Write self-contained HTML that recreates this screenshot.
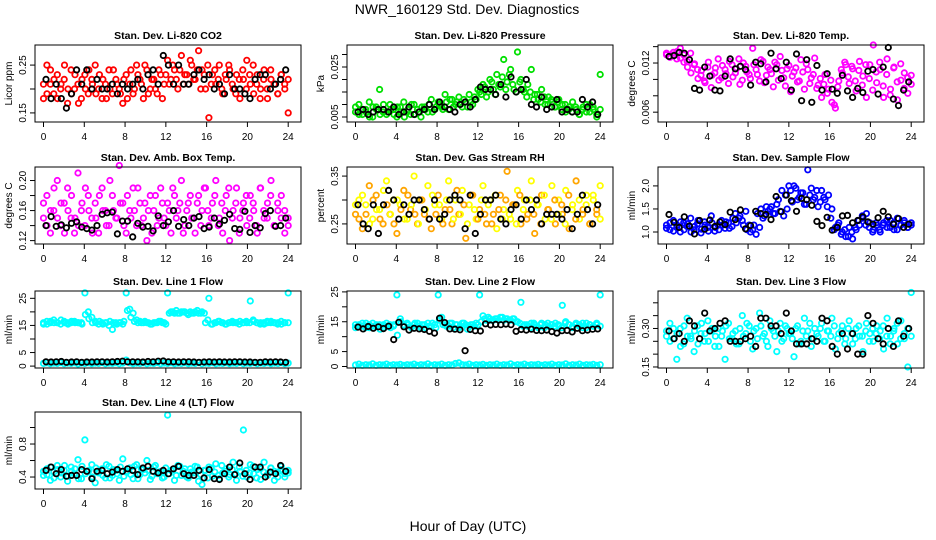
<!DOCTYPE html>
<html><head><meta charset="utf-8">
<style>
html,body{margin:0;padding:0;background:#fff;}
svg{display:block;font-family:"Liberation Sans",Arial,sans-serif;}
</style></head>
<body>
<svg id="chart" width="936" height="540" viewBox="0 0 936 540" xmlns="http://www.w3.org/2000/svg">
<rect width="936" height="540" fill="#fff"/>
<text x="467" y="14" text-anchor="middle" font-size="14" fill="#000">NWR_160129  Std. Dev. Diagnostics</text>
<text x="468" y="531" text-anchor="middle" font-size="14" fill="#000">Hour of Day (UTC)</text>
<g id="panels"></g>
</svg>
<script>
const xTicks = [0,4,8,12,16,20,24];
const xTickLabels = ["0","4","8","12","16","20","24"];

const co2Color = [0.18,0.25,0.21,0.19,0.23,0.20,0.22,0.17,0.24,0.20,0.21,0.18,0.23,0.19,0.22,0.25,0.20,0.18,0.21,0.24,0.19,0.22,0.20,0.17,0.23,0.21,0.19,0.25,0.22,0.18,0.24,0.20,0.22,0.19,0.23,0.21,0.26,0.22,0.24,0.20,0.27,0.23,0.21,0.25,0.22,0.28,0.24,0.20,0.14,0.23,0.21,0.25,0.19,0.22,0.24,0.20,0.23,0.18,0.22,0.26,0.21,0.19,0.23,0.20,0.24,0.18,0.22,0.21,0.19,0.23,0.20,0.15];
const co2Color2 = [0.21,0.19,0.24,0.22,0.18,0.21,0.25,0.20,0.19,0.23,0.17,0.22,0.20,0.24,0.21,0.19,0.23,0.22,0.18,0.20,0.24,0.21,0.19,0.22,0.18,0.24,0.20,0.23,0.21,0.25,0.19,0.22,0.20,0.24,0.18,0.23,0.21,0.25,0.22,0.24,0.21,0.23,0.26,0.22,0.24,0.20,0.23,0.25,0.21,0.24,0.22,0.20,0.23,0.25,0.21,0.19,0.22,0.24,0.20,0.23,0.25,0.21,0.18,0.22,0.20,0.24,0.21,0.19,0.23,0.21,0.22];
const co2Black = [0.22,0.18,0.21,0.18,0.16,0.19,0.24,0.21,0.24,0.20,0.22,0.20,0.20,0.21,0.19,0.21,0.20,0.21,0.22,0.20,0.23,0.24,0.21,0.27,0.25,0.21,0.25,0.21,0.21,0.23,0.24,0.22,0.23,0.20,0.21,0.19,0.23,0.20,0.20,0.19,0.18,0.22,0.23,0.23,0.20,0.21,0.22,0.24];

const presColor = [0.007,0.010,0.006,0.008,0.011,0.005,0.009,0.016,0.007,0.006,0.010,0.008,0.005,0.009,0.011,0.007,0.006,0.010,0.008,0.005,0.009,0.007,0.012,0.008,0.011,0.009,0.014,0.008,0.012,0.010,0.013,0.009,0.011,0.014,0.010,0.012,0.015,0.018,0.013,0.020,0.016,0.022,0.017,0.028,0.019,0.024,0.016,0.031,0.020,0.015,0.018,0.024,0.014,0.012,0.016,0.010,0.013,0.011,0.009,0.012,0.010,0.007,0.009,0.011,0.008,0.006,0.009,0.007,0.010,0.008,0.005,0.022];
const presColor2 = [0.009,0.006,0.008,0.007,0.005,0.009,0.008,0.006,0.010,0.007,0.008,0.006,0.009,0.007,0.005,0.008,0.010,0.006,0.007,0.009,0.008,0.010,0.007,0.009,0.010,0.008,0.011,0.012,0.009,0.011,0.010,0.012,0.009,0.011,0.013,0.016,0.014,0.017,0.015,0.019,0.014,0.018,0.021,0.016,0.022,0.018,0.015,0.019,0.016,0.013,0.015,0.012,0.014,0.011,0.013,0.010,0.012,0.009,0.011,0.008,0.010,0.008,0.007,0.009,0.006,0.008,0.010,0.007,0.009,0.006,0.008];
const presBlack = [0.007,0.008,0.006,0.007,0.008,0.008,0.007,0.009,0.006,0.007,0.009,0.006,0.007,0.008,0.010,0.008,0.011,0.009,0.008,0.007,0.010,0.011,0.009,0.012,0.017,0.016,0.016,0.014,0.018,0.013,0.021,0.015,0.016,0.020,0.010,0.009,0.013,0.008,0.009,0.012,0.007,0.008,0.007,0.007,0.012,0.009,0.011,0.006];

const tempColor = [0.013,0.0128,0.0133,0.0125,0.0138,0.013,0.0122,0.0132,0.0118,0.0112,0.0105,0.0098,0.0115,0.009,0.0108,0.0125,0.0102,0.0112,0.0095,0.0118,0.0108,0.0125,0.0099,0.0116,0.0106,0.0138,0.0112,0.0098,0.0122,0.0105,0.0112,0.0091,0.0118,0.0128,0.0102,0.0113,0.0085,0.0109,0.0097,0.0124,0.0088,0.0112,0.0102,0.0126,0.0093,0.0078,0.0106,0.0088,0.0072,0.0065,0.0098,0.0108,0.0118,0.0095,0.0113,0.0086,0.0122,0.0104,0.0078,0.0118,0.0142,0.0096,0.0112,0.0078,0.0125,0.0088,0.0115,0.0075,0.0099,0.0108,0.0083,0.0105];
const tempColor2 = [0.0132,0.0127,0.013,0.0134,0.0126,0.0121,0.0115,0.0108,0.0119,0.0101,0.0111,0.0096,0.0121,0.0105,0.0114,0.0099,0.0117,0.0107,0.0122,0.0103,0.0113,0.0094,0.012,0.0109,0.0101,0.0118,0.0106,0.0124,0.0096,0.0115,0.0107,0.0121,0.0099,0.0111,0.0092,0.0117,0.0104,0.0114,0.0098,0.0109,0.0119,0.0095,0.0106,0.0089,0.0101,0.0094,0.0083,0.0099,0.0069,0.0091,0.0112,0.0121,0.0103,0.0116,0.0098,0.0111,0.0093,0.0118,0.0101,0.0087,0.0109,0.0121,0.0092,0.0106,0.0081,0.0114,0.0097,0.0119,0.0089,0.0102,0.0094];
const tempBlack = [0.0128,0.0129,0.0133,0.0132,0.0124,0.0089,0.0087,0.0115,0.0104,0.0087,0.0086,0.0104,0.0125,0.0113,0.0116,0.0112,0.0093,0.0121,0.0119,0.0097,0.0132,0.0113,0.0101,0.0121,0.0087,0.0131,0.0074,0.0124,0.0072,0.0117,0.0087,0.0107,0.0088,0.0083,0.0105,0.0086,0.0078,0.0089,0.0084,0.0110,0.0112,0.0082,0.0115,0.0139,0.0076,0.0068,0.0087,0.0097];

const boxColor = [0.15,0.18,0.13,0.16,0.20,0.14,0.17,0.19,0.15,0.13,0.21,0.16,0.14,0.18,0.15,0.17,0.13,0.19,0.16,0.14,0.18,0.15,0.22,0.17,0.13,0.16,0.19,0.14,0.17,0.15,0.12,0.18,0.16,0.14,0.19,0.15,0.17,0.13,0.18,0.16,0.20,0.14,0.17,0.15,0.13,0.18,0.16,0.19,0.14,0.17,0.20,0.15,0.13,0.18,0.12,0.16,0.19,0.15,0.17,0.14,0.18,0.16,0.13,0.19,0.15,0.17,0.20,0.14,0.16,0.18,0.13,0.15];
const boxColor2 = [0.17,0.14,0.16,0.19,0.15,0.17,0.13,0.16,0.18,0.15,0.14,0.17,0.19,0.16,0.13,0.15,0.18,0.16,0.14,0.20,0.16,0.15,0.17,0.14,0.18,0.15,0.16,0.19,0.14,0.17,0.16,0.13,0.18,0.15,0.17,0.14,0.16,0.19,0.15,0.17,0.13,0.16,0.18,0.15,0.17,0.14,0.19,0.16,0.15,0.18,0.14,0.17,0.16,0.19,0.15,0.17,0.13,0.16,0.18,0.15,0.17,0.14,0.19,0.16,0.15,0.18,0.14,0.17,0.15,0.16,0.14];
const boxBlack = [0.140,0.152,0.139,0.141,0.137,0.143,0.145,0.138,0.136,0.134,0.140,0.155,0.157,0.158,0.129,0.146,0.146,0.125,0.143,0.138,0.139,0.133,0.153,0.140,0.145,0.160,0.139,0.148,0.140,0.150,0.152,0.136,0.138,0.150,0.142,0.147,0.155,0.136,0.135,0.159,0.131,0.140,0.137,0.156,0.160,0.139,0.140,0.150];

const rhColor = [0.27,0.30,0.24,0.29,0.33,0.26,0.31,0.28,0.25,0.34,0.27,0.30,0.23,0.29,0.32,0.26,0.28,0.35,0.25,0.30,0.27,0.33,0.24,0.29,0.31,0.26,0.28,0.34,0.25,0.30,0.27,0.32,0.22,0.29,0.31,0.26,0.28,0.33,0.25,0.30,0.27,0.24,0.31,0.28,0.36,0.26,0.29,0.32,0.25,0.30,0.27,0.34,0.23,0.29,0.31,0.26,0.28,0.33,0.25,0.30,0.27,0.32,0.24,0.29,0.34,0.26,0.28,0.31,0.25,0.30,0.27,0.33];
const rhColor2 = [0.29,0.26,0.31,0.27,0.25,0.30,0.28,0.26,0.32,0.29,0.27,0.25,0.30,0.28,0.26,0.31,0.29,0.27,0.25,0.30,0.28,0.26,0.31,0.27,0.29,0.25,0.30,0.28,0.26,0.32,0.27,0.29,0.25,0.31,0.28,0.26,0.30,0.27,0.29,0.25,0.31,0.28,0.26,0.30,0.27,0.29,0.25,0.31,0.28,0.26,0.30,0.27,0.29,0.25,0.31,0.28,0.26,0.30,0.27,0.29,0.25,0.31,0.28,0.26,0.30,0.27,0.29,0.25,0.31,0.28,0.26];
const rhBlack = [0.29,0.25,0.24,0.29,0.23,0.29,0.32,0.30,0.26,0.29,0.27,0.30,0.30,0.28,0.26,0.30,0.26,0.27,0.30,0.31,0.30,0.24,0.31,0.23,0.27,0.30,0.30,0.31,0.26,0.25,0.28,0.29,0.26,0.30,0.28,0.30,0.25,0.27,0.27,0.27,0.26,0.28,0.24,0.27,0.31,0.28,0.25,0.29];

const flowColor = [1.15,1.05,1.25,1.10,1.00,1.20,1.12,1.30,1.05,1.18,0.98,1.22,1.10,1.35,1.02,1.15,1.25,1.08,1.20,1.12,1.40,1.30,1.25,1.45,1.15,1.05,0.95,1.10,1.30,1.55,1.50,1.40,1.60,1.45,1.35,1.50,1.90,2.00,1.70,1.85,1.60,2.35,1.95,1.75,1.55,1.90,1.70,1.80,1.50,1.10,1.20,1.00,0.90,1.10,0.85,1.05,1.15,1.30,1.40,1.20,1.05,1.15,1.00,1.20,1.10,1.25,1.05,1.30,1.15,1.20,1.10,1.15];
const flowColor2 = [1.08,1.20,1.02,1.15,1.22,1.05,1.18,1.00,1.12,1.25,1.06,1.15,1.02,1.20,1.10,1.05,1.15,1.22,1.08,1.30,1.20,1.35,1.15,1.05,1.00,1.15,1.40,1.50,1.35,1.45,1.55,1.40,1.70,1.90,1.80,2.00,1.65,1.95,1.75,1.85,1.60,1.80,1.70,1.90,1.65,1.75,1.55,1.30,1.05,1.15,0.95,1.05,0.90,1.00,1.10,1.25,1.35,1.15,1.10,1.00,1.20,1.05,1.15,1.25,1.10,1.20,1.05,1.15,1.25,1.10,1.20];
const flowBlack = [1.38,1.21,1.10,1.33,1.13,0.96,1.25,1.06,1.26,1.12,1.22,1.16,1.43,1.27,1.48,1.07,1.14,1.45,1.40,1.38,1.27,1.77,1.44,1.80,1.68,1.45,1.73,1.70,1.58,1.23,1.14,1.32,1.04,1.10,1.35,1.36,1.20,1.25,1.33,1.22,1.17,1.31,1.45,1.33,1.17,1.29,1.10,1.17];

const line1High = [15.5,16.5,16,17,16,15.5,16.5,16,16,16.5,16,16,27,20,18,16.5,15.5,16,16,15,13.5,16,16,15.5,27,21,19.5,17,16.5,16,16,15.5,16,16,16.5,16,27,20,19.5,19.5,20,20,19,19.5,20,19.5,20,16,25,15.5,16,16.5,16,15.5,16,16,16,16.5,16,16,24,16.5,16,16,15.5,16,16.5,16,16,15.5,16,27];
const line1High2 = [16,15.5,16.5,16,16,17,16,15.5,16.5,16,16,15.5,19,17.5,16,16,16.5,15.5,16,16.5,16,15.5,16,16.5,20.5,18,16.5,16,16,16.5,16,15.5,16,16.5,16,15.5,19.5,20,20.5,19.5,20,19.5,20,19.5,20.5,19.5,19.5,17,15.5,16,16.5,16,15.5,16,16.5,16,15.5,16,16.5,16,17,16,15.5,16,16.5,16,16,15.5,16.5,16,16];
const line1Low = [1.0,1.2,0.9,1.1,1.0,1.3,0.9,1.1,1.0,1.2,0.8,1.1,1.0,1.2,0.9,1.1,1.0,1.3,0.9,1.1,1.0,1.2,0.9,1.1,2.2,1.2,0.9,1.1,1.0,1.2,0.9,1.1,1.0,1.3,0.9,1.1,1.0,1.2,0.9,1.1,1.0,1.2,0.9,1.1,1.0,1.3,0.9,1.1,1.0,1.2,0.9,1.1,1.0,1.2,0.9,1.1,1.0,1.3,0.9,1.1,1.0,1.2,0.9,1.1,1.0,1.2,0.9,1.1,1.0,1.3,0.9,1.1];
const line1Black = [1.6,1.5,1.6,1.7,1.4,1.5,1.6,1.4,1.5,1.5,1.6,1.6,1.5,1.6,1.7,1.8,1.6,1.6,1.6,1.5,1.7,1.6,1.8,1.9,1.6,1.6,1.5,1.6,1.6,1.5,1.4,1.5,1.6,1.5,1.6,1.5,1.5,1.6,1.6,1.5,1.5,1.4,1.4,1.6,1.5,1.6,1.5,1.4];

const line2High = [14,13.5,14.5,13,14,14.5,13.5,14,13,14.5,14,13.5,24,16,14,14.5,13.5,14,14.5,13,14,14.5,13.5,14,24,16.5,14,13.5,14.5,14,13,14.5,14,13.5,14,14.5,24,17,15.5,16,15.5,16,16.5,15.5,16,15.5,16,15,21.5,14,13.5,14.5,14,13,14.5,14,13.5,14,14.5,13.5,20.5,15,14,13.5,14.5,14,13,14.5,14,13.5,14,24];
const line2High2 = [13,14,13.5,14.5,13,13.5,14,12.5,14,13.5,13,14,10.5,15,13.5,14,13,14.5,13.5,14,13,13.5,14.5,13,15.5,14,13.5,14.5,13,14,13.5,14.5,12.5,14,13.5,14,15,16,16.5,15.5,16,15.5,16.5,16,15.5,16,15,14.5,13.5,14,13,14.5,13.5,14,13,14.5,14,13.5,14,13,14.5,14,13,14,13.5,14.5,13,14,13.5,14.5,13.5];
const line2Low = [0.5,0.8,0.4,0.6,0.5,0.9,0.4,0.6,0.5,0.8,0.4,0.6,0.5,0.7,0.4,0.6,0.5,0.8,0.4,0.6,0.5,0.9,0.4,0.6,0.5,0.8,0.4,0.6,0.5,1.0,1.2,0.6,0.5,0.8,0.4,0.6,0.5,0.7,0.4,0.6,0.5,0.8,0.4,0.6,0.5,0.9,0.4,0.6,0.5,0.8,0.4,0.6,0.5,0.7,0.4,0.6,0.5,0.8,0.4,0.6,0.5,0.9,0.4,0.6,0.5,0.8,0.4,0.6,0.5,0.7,0.4,0.6];
const line2Black = [13.2,12.6,13.4,12.8,13.3,12.7,13.5,9.0,14.8,13.3,12.2,12.8,12.6,12.4,11.8,11.2,16.2,14.7,12.6,12.5,12.3,5.3,12.4,12.0,11.9,14.3,13.9,14.1,14.0,14.2,14.0,11.8,12.4,12.2,12.5,12.1,12.0,12.2,11.7,11.2,12.0,12.1,11.6,12.8,12.0,12.2,12.5,12.6];

const line3Color = [0.29,0.32,0.26,0.18,0.30,0.24,0.34,0.27,0.21,0.31,0.28,0.25,0.33,0.29,0.23,0.30,0.27,0.18,0.32,0.26,0.29,0.24,0.35,0.28,0.31,0.22,0.30,0.36,0.27,0.25,0.33,0.29,0.21,0.32,0.26,0.30,0.28,0.19,0.31,0.25,0.34,0.29,0.23,0.30,0.27,0.32,0.25,0.29,0.34,0.22,0.28,0.31,0.26,0.33,0.24,0.30,0.27,0.21,0.32,0.28,0.25,0.31,0.29,0.22,0.34,0.27,0.30,0.24,0.33,0.26,0.15,0.44];
const line3Color2 = [0.27,0.25,0.30,0.28,0.23,0.31,0.27,0.26,0.29,0.24,0.32,0.28,0.25,0.30,0.27,0.23,0.29,0.31,0.26,0.28,0.24,0.30,0.27,0.32,0.25,0.29,0.26,0.31,0.28,0.23,0.30,0.27,0.29,0.25,0.31,0.28,0.26,0.30,0.24,0.29,0.27,0.32,0.26,0.28,0.30,0.25,0.29,0.27,0.31,0.26,0.29,0.24,0.30,0.28,0.26,0.31,0.27,0.29,0.25,0.30,0.28,0.26,0.31,0.27,0.24,0.29,0.32,0.26,0.28,0.30,0.27];
const line3Black = [0.29,0.26,0.28,0.25,0.33,0.31,0.26,0.36,0.29,0.30,0.32,0.33,0.25,0.25,0.25,0.26,0.27,0.23,0.34,0.34,0.31,0.31,0.28,0.36,0.29,0.24,0.24,0.24,0.26,0.25,0.34,0.33,0.23,0.20,0.28,0.22,0.28,0.20,0.20,0.35,0.32,0.26,0.24,0.30,0.23,0.33,0.27,0.30];

const line4Color = [0.42,0.50,0.36,0.46,0.54,0.40,0.48,0.35,0.52,0.44,0.61,0.38,0.85,0.47,0.55,0.33,0.45,0.50,0.39,0.53,0.42,0.48,0.36,0.62,0.46,0.51,0.38,0.55,0.43,0.49,0.60,0.37,0.52,0.44,0.47,0.40,1.15,0.48,0.36,0.54,0.42,0.50,0.39,0.46,0.53,0.35,0.31,0.48,0.52,0.41,0.56,0.38,0.45,0.50,0.43,0.58,0.36,0.47,0.97,0.40,0.55,0.44,0.49,0.37,0.58,0.42,0.51,0.36,0.46,0.53,0.40,0.45];
const line4Color2 = [0.47,0.43,0.52,0.39,0.49,0.45,0.54,0.41,0.47,0.50,0.38,0.53,0.44,0.48,0.40,0.51,0.46,0.42,0.55,0.39,0.49,0.44,0.52,0.41,0.47,0.43,0.53,0.38,0.50,0.45,0.48,0.41,0.54,0.46,0.39,0.51,0.44,0.49,0.42,0.53,0.47,0.40,0.50,0.45,0.52,0.43,0.48,0.39,0.51,0.46,0.42,0.54,0.47,0.40,0.49,0.44,0.52,0.41,0.48,0.45,0.53,0.39,0.50,0.46,0.43,0.51,0.47,0.40,0.49,0.44,0.48];
const line4Black = [0.48,0.52,0.44,0.49,0.41,0.42,0.42,0.49,0.47,0.38,0.47,0.48,0.44,0.46,0.49,0.47,0.50,0.48,0.43,0.51,0.53,0.47,0.45,0.48,0.44,0.50,0.53,0.44,0.42,0.42,0.48,0.39,0.49,0.38,0.37,0.44,0.52,0.43,0.57,0.44,0.37,0.52,0.52,0.40,0.46,0.44,0.54,0.47];

const panelTitles = ["Stan. Dev. Li-820 CO2","Stan. Dev. Li-820 Pressure","Stan. Dev. Li-820 Temp.","Stan. Dev. Amb. Box Temp.","Stan. Dev. Gas Stream RH","Stan. Dev. Sample Flow","Stan. Dev. Line 1 Flow","Stan. Dev. Line 2 Flow","Stan. Dev. Line 3 Flow","Stan. Dev. Line 4 (LT) Flow"];
const yTitles = ["Licor ppm","kPa","degrees C","degrees C","percent","ml/min","ml/min","ml/min","ml/min","ml/min"];
const yTickSets = [[0.15,0.20,0.25],[0.005,0.010,0.015,0.020,0.025,0.030],[0.006,0.008,0.010,0.012,0.014],[0.12,0.14,0.16,0.18,0.20],[0.25,0.30,0.35],[1.0,1.5,2.0],[0,5,10,15,20,25],[0,5,10,15,20,25],[0.15,0.20,0.25,0.30,0.35,0.40],[0.4,0.6,0.8,1.0]];
const yTickLabelSets = [["0.15","","0.25"],["0.005","","","","0.025",""],["0.006","","","0.012",""],["0.12","","0.16","","0.20"],["0.25","","0.35"],["1.0","1.5","2.0"],["0","5","","15","","25"],["0","5","","15","","25"],["0.15","","","0.30","",""],["0.4","","0.8",""]];

const layout = [
 {l:35,t:45,yMin:0.131,yMax:0.292},{l:347,t:45,yMin:0.003,yMax:0.0338},{l:658,t:45,yMin:0.0048,yMax:0.0142},
 {l:35,t:167,yMin:0.1155,yMax:0.218},{l:347,t:167,yMin:0.208,yMax:0.369},{l:658,t:167,yMin:0.74,yMax:2.41},
 {l:35,t:291,yMin:-0.7,yMax:27.7},{l:347,t:291,yMin:-0.5,yMax:25.3},{l:658,t:291,yMin:0.146,yMax:0.446},
 {l:35,t:412,yMin:0.255,yMax:1.188}
];
const seriesSets = [
 [[co2Color,"#ff0000"],[co2Color2,"#ff0000"],[co2Black,"#000"]],
 [[presColor,"#00e000"],[presColor2,"#00e000"],[presBlack,"#000"]],
 [[tempColor,"#ff00ff"],[tempColor2,"#ff00ff"],[tempBlack,"#000"]],
 [[boxColor,"#ff00ff"],[boxColor2,"#ff00ff"],[boxBlack,"#000"]],
 [[rhColor,"#ffa500"],[rhColor2,"#ffa500"],[rhBlack,"#000"]],
 [[flowColor,"#0000ff"],[flowColor2,"#0000ff"],[flowBlack,"#000"]],
 [[line1High,"#00ffff"],[line1High2,"#00ffff"],[line1Low,"#00ffff"],[line1Black,"#000"]],
 [[line2High,"#00ffff"],[line2High2,"#00ffff"],[line2Low,"#00ffff"],[line2Black,"#000"]],
 [[line3Color,"#00ffff"],[line3Color2,"#00ffff"],[line3Black,"#000"]],
 [[line4Color,"#00ffff"],[line4Color2,"#00ffff"],[line4Black,"#000"]]
];

const NS = "http://www.w3.org/2000/svg";
const W = 266, H = 77;
const root = document.getElementById('panels');
function mk(tag, attrs, parent){const e=document.createElementNS(NS,tag);for(const k in attrs)e.setAttribute(k,attrs[k]);parent.appendChild(e);return e;}

layout.forEach((p,pi)=>{
  const g = mk('g',{},root);
  
  
  const xs = h => p.l + 8.5 + h*(244.7/24);
  const ys = v => p.t + H - (v - p.yMin)/(p.yMax - p.yMin)*H;
  const pts = mk('g',{fill:'none','stroke-width':'1.8'},g);
  
  
  seriesSets[pi].forEach(([vals,color],si)=>{
    vals.forEach((v,i)=>{
      const h = i*24/(vals.length-1) + (color==="#000" ? 0.25*(1 - 2*i/(vals.length-1)) : 0);
      const c = mk('circle',{cx:xs(h).toFixed(1),cy:ys(v).toFixed(1),r:2.7,stroke:(pi===4&&color!=="#000"&&(i+si)%2)?"#ffff00":color},pts);
      
      
    });
  });
  const box = mk('rect',{x:p.l,y:p.t,width:W,height:H,fill:'none',stroke:'#000','stroke-width':1},g);
  
  
  const xa = mk('g',{},g);
  
  
  mk('line',{x1:xs(0),x2:xs(24),y1:p.t+H,y2:p.t+H,stroke:'#000'},xa);
  xTicks.forEach((t,i)=>{
    mk('line',{x1:xs(t),x2:xs(t),y1:p.t+H,y2:p.t+H+5,stroke:'#000'},xa);
    const tx = mk('text',{x:xs(t),y:p.t+H+18,'text-anchor':'middle','font-size':10},xa);
    tx.textContent = xTickLabels[i];
    
    
  });
  const ya = mk('g',{},g);
  
  
  const tks = yTickSets[pi];
  mk('line',{x1:p.l,x2:p.l,y1:ys(tks[0]),y2:ys(tks[tks.length-1]),stroke:'#000'},ya);
  tks.forEach((t,i)=>{
    mk('line',{x1:p.l-5,x2:p.l,y1:ys(t),y2:ys(t),stroke:'#000'},ya);
    const lab = yTickLabelSets[pi][i];
    if(lab){
      const tx = mk('text',{x:p.l-9,y:ys(t),'text-anchor':'middle','font-size':10,transform:`rotate(-90 ${p.l-9} ${ys(t)})`},ya);
      tx.textContent = lab;
      
      
    }
  });
  const yt = mk('text',{x:p.l-23,y:p.t+H/2,'text-anchor':'middle','font-size':10,transform:`rotate(-90 ${p.l-23} ${p.t+H/2})`},g);
  yt.textContent = yTitles[pi];
  
  
  const tt = mk('text',{x:p.l+W/2,y:p.t-6,'text-anchor':'middle','font-size':10.5,'font-weight':'bold'},g);
  tt.textContent = panelTitles[pi];
  
  
});
</script>
</body></html>
